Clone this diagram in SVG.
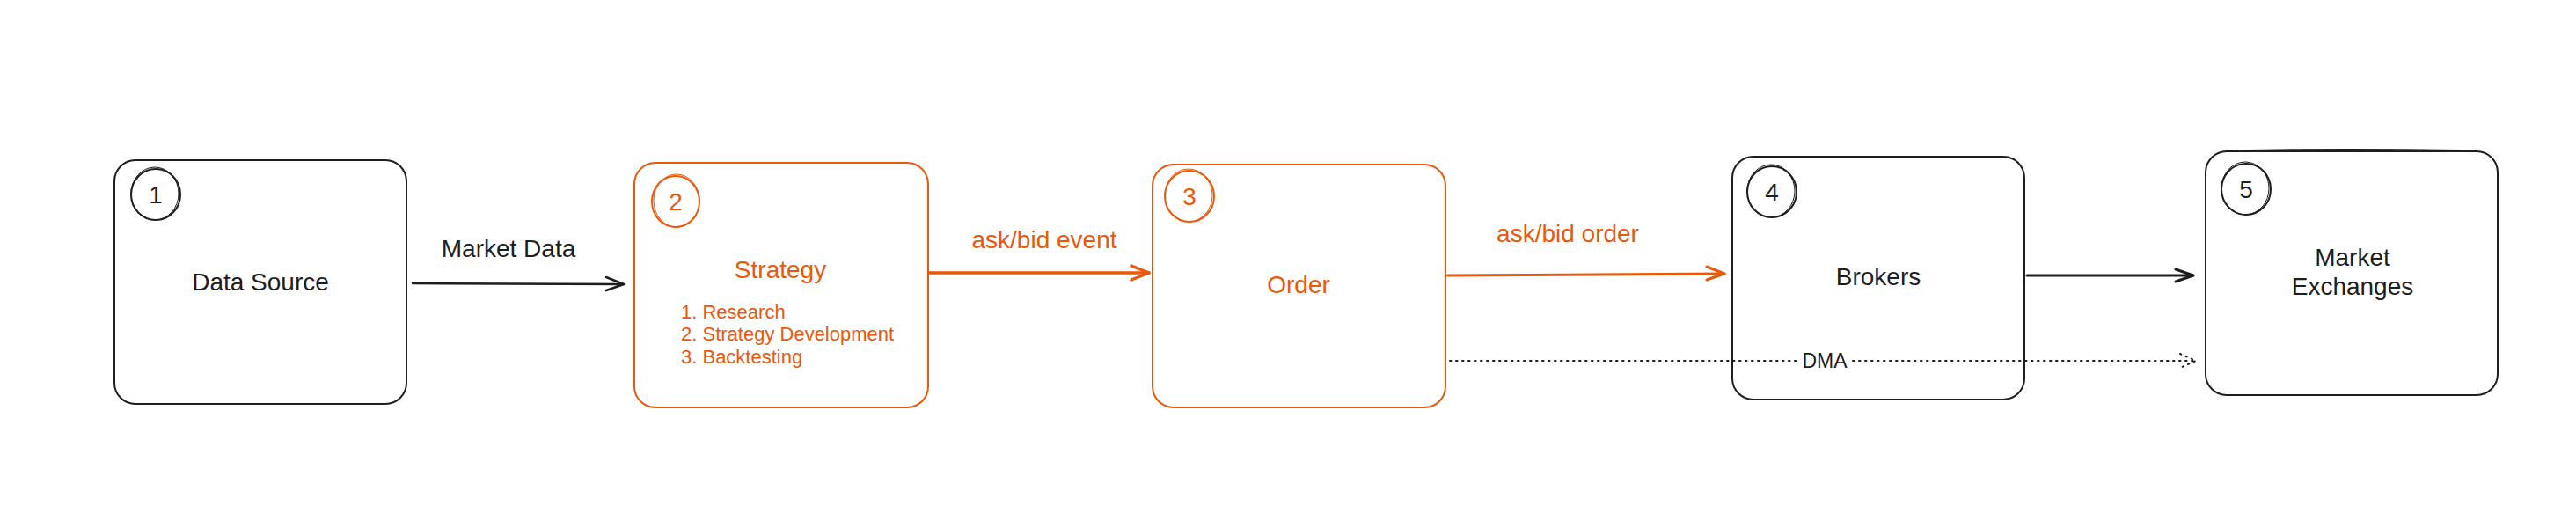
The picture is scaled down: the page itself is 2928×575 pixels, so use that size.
<svg xmlns="http://www.w3.org/2000/svg" width="2928" height="575" viewBox="0 0 2928 575">
<style>
.bk{fill:#fff;stroke:#1e1e1e;stroke-width:2}
.or{fill:#fff;stroke:#e8590c;stroke-width:2}
.ck{fill:none;stroke:#1e1e1e;stroke-width:2}
.co{fill:none;stroke:#e8590c;stroke-width:2}
.t{font-family:"Liberation Sans",Arial,sans-serif;font-size:28px;text-anchor:middle}
.tb{fill:#1e1e1e}
.to{fill:#e8590c}
.ls{font-family:"Liberation Sans",Arial,sans-serif;font-size:22px;fill:#e8590c}
.ab{fill:none;stroke:#1e1e1e;stroke-width:2.5;stroke-linecap:round;stroke-linejoin:round}
.ao{fill:none;stroke:#e8590c;stroke-width:3.5;stroke-linecap:round;stroke-linejoin:round}
.dt{fill:none;stroke:#1e1e1e;stroke-width:2;stroke-dasharray:1.5 5.5;stroke-linecap:round}
</style>
<rect width="2928" height="575" fill="#fff"/>
<g id="connectors">
  <g id="c-market-data">
    <path class="ab" d="M469 322 L709 323"/>
    <path class="ab" d="M689 315 L709 323 L689 330"/>
    <text class="t tb" x="578" y="292">Market Data</text>
  </g>
  <g id="c-askbid-event">
    <path class="ao" d="M1056 310 L1306 310"/>
    <path class="ao" d="M1286 302 L1306 310 L1286 318"/>
    <text class="t to" x="1187" y="282">ask/bid event</text>
  </g>
  <g id="c-askbid-order">
    <path class="ao" d="M1645 313 L1960 311" style="stroke-width:3"/>
    <path class="ao" d="M1940 303 L1960 311 L1940 318" style="stroke-width:3"/>
    <text class="t to" x="1782" y="275">ask/bid order</text>
  </g>
  <g id="c-brokers-exchange">
    <path class="ab" d="M2304 313 L2493 313" style="stroke-width:3"/>
    <path class="ab" d="M2473 306 L2493 313 L2473 320" style="stroke-width:3"/>
  </g>
</g>
<g id="n1">
  <rect class="bk" x="130" y="182" width="332" height="277" rx="24"/>
  <ellipse class="ck" cx="177" cy="221" rx="28" ry="29"/>
  <ellipse class="ck" cx="176" cy="220" rx="27" ry="30" style="stroke-width:1"/>
  <text class="t tb" x="177" y="231" style="font-size:28px">1</text>
  <text class="t tb" x="296" y="330">Data Source</text>
</g>
<g id="n2">
  <rect class="or" x="721" y="185" width="334" height="278" rx="24"/>
  <ellipse class="co" cx="768" cy="229" rx="27" ry="29"/>
  <ellipse class="co" cx="769" cy="228" rx="26" ry="30" style="stroke-width:1"/>
  <text class="t to" x="768" y="239" style="font-size:28px">2</text>
  <text class="t to" x="887" y="316">Strategy</text>
  <text class="ls" x="774" y="362">1. Research</text>
  <text class="ls" x="774" y="387">2. Strategy Development</text>
  <text class="ls" x="774" y="413">3. Backtesting</text>
</g>
<g id="n3">
  <rect class="or" x="1310" y="187" width="333" height="276" rx="24"/>
  <ellipse class="co" cx="1352" cy="223" rx="28" ry="29"/>
  <ellipse class="co" cx="1351" cy="222" rx="27" ry="30" style="stroke-width:1"/>
  <text class="t to" x="1352" y="233" style="font-size:28px">3</text>
  <text class="t to" x="1476" y="333">Order</text>
</g>
<g id="n4">
  <rect class="bk" x="1969" y="178" width="332" height="276" rx="24"/>
  <ellipse class="ck" cx="2014" cy="218" rx="28" ry="29"/>
  <ellipse class="ck" cx="2013" cy="217" rx="27" ry="30" style="stroke-width:1"/>
  <text class="t tb" x="2014" y="228" style="font-size:28px">4</text>
  <text class="t tb" x="2135" y="324">Brokers</text>
</g>
<g id="n5">
  <rect class="bk" x="2507" y="172" width="332" height="277" rx="24"/>
  <path class="ck" d="M2530 171 Q2670 168 2815 171" style="stroke-width:1.2"/>
  <ellipse class="ck" cx="2553" cy="215" rx="28" ry="29"/>
  <ellipse class="ck" cx="2552" cy="214" rx="27" ry="30" style="stroke-width:1"/>
  <text class="t tb" x="2553" y="225" style="font-size:28px">5</text>
  <text class="t tb" x="2674" y="302">Market</text>
  <text class="t tb" x="2674" y="335">Exchanges</text>
</g>
<g id="c-dma">
  <path class="dt" d="M1648 410 L2042 410"/>
  <path class="dt" d="M2106 410 L2496 410"/>
  <path class="dt" d="M2478 402 L2496 410 L2478 418"/>
  <text class="t tb" x="2074" y="418" style="font-size:23px">DMA</text>
</g>
</svg>
